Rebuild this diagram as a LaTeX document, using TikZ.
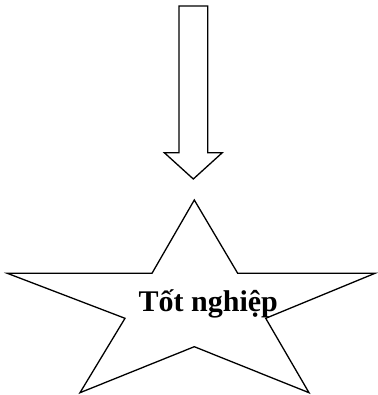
\documentclass[tikz,border=0pt]{standalone}
\usepackage{fontspec}
\setmainfont{Liberation Serif}
\usetikzlibrary{calc}
\definecolor{gradink}{HTML}{000000}
\tikzset{
  outline/.style={draw=gradink, line width=1.3pt, fill=white, line join=miter},
  goal/.style={font=\bfseries\fontsize{30}{32}\selectfont, text=gradink, inner sep=0pt},
}

\begin{document}
\begin{tikzpicture}[x=1pt, y=-1pt]
    \useasboundingbox (0,0) rectangle (377,395);

    % block arrow pointing down
    \draw[outline] (179,6) -- (207.7,6) -- (207.7,152.7) -- (222.3,152.7)
      -- (193.3,179) -- (164.3,152.7) -- (179,152.7) -- cycle;

    % star
    \draw[outline] (194.3,200) -- (237.7,273.3) -- (375,273.3) -- (265.7,318.3)
      -- (309,392.7) -- (194.3,346.7) -- (80,392.7) -- (125,318.3)
      -- (7.3,273.3) -- (152,273.3) -- cycle;

    \node[goal, anchor=base] (grad) at (208.3,311.5) {Tốt nghiệp};
  \end{tikzpicture}
\end{document}
